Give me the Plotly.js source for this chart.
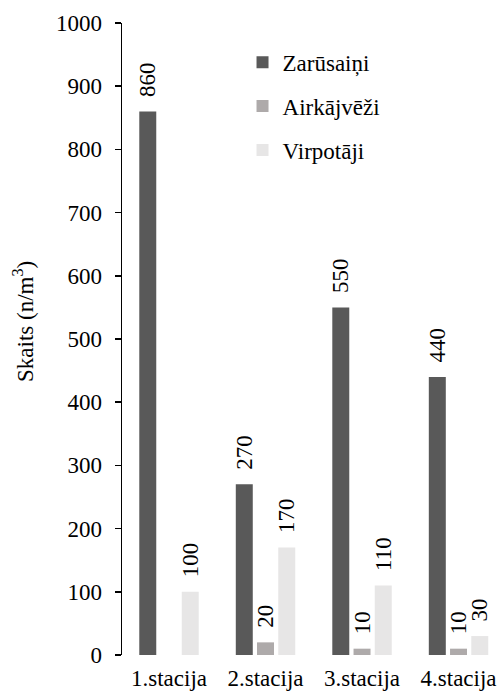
<!DOCTYPE html>
<html>
<head>
<meta charset="utf-8">
<script src="https://cdn.plot.ly/plotly-3.0.1.min.js"></script>
<style>html,body{margin:0;padding:0;background:#fff;}#chart{width:501px;height:693px;}</style>
</head>
<body>
<div id="chart"></div>
<script>
const categories = ["1.stacija", "2.stacija", "3.stacija", "4.stacija"];
const zarusaini = [860, 270, 550, 440];
const airkajvezi = [0, 20, 10, 10];
const virpotaji = [100, 170, 110, 30];
const seriesNames = ["Zarūsaiņi", "Airkājvēži", "Virpotāji"];
const seriesColors = ["#595959", "#AEAAAA", "#E7E6E6"];
const yTicks = [0, 100, 200, 300, 400, 500, 600, 700, 800, 900, 1000];
const yTitle = "Skaits (n/m<sup>3</sup>)";

const FONT = "Liberation Serif";
const FS = 23;
const series = [zarusaini, airkajvezi, virpotaji];
const traces = series.map((vals, i) => ({
  type: "bar",
  name: seriesNames[i],
  legendgroup: "g" + i,
  x: categories,
  y: vals,
  text: vals.map(v => v > 0 ? "\u00a0\u00a0" + String(v) : ""),
  textposition: "outside",
  textangle: -90,
  constraintext: "none",
  cliponaxis: false,
  textfont: {family: FONT, size: FS, color: "#000"},
  marker: {color: seriesColors[i]},
  hoverinfo: "none"
}));

const layout = {
  width: 501, height: 693,
  margin: {l: 122, r: 0, t: 23, b: 38},
  paper_bgcolor: "#fff", plot_bgcolor: "#fff",
  font: {family: FONT, size: FS, color: "#000"},
  barmode: "group",
  bargap: 0.34,
  bargroupgap: 0.2,
  showlegend: true,
  legend: {
    x: 0.318, y: 0.972, xanchor: "left", yanchor: "top",
    bgcolor: "rgba(0,0,0,0)",
    font: {family: FONT, size: FS, color: "#000"},
    tracegroupgap: 11,
    traceorder: "grouped"
  },
  xaxis: {
    range: [-0.487, 3.44],
    showline: false, showgrid: false, zeroline: false,
    ticks: "", ticklabelstandoff: 7,
    tickfont: {family: FONT, size: FS, color: "#000"},
    fixedrange: true
  },
  yaxis: {
    range: [0, 1000],
    tickvals: yTicks,
    ticktext: yTicks.map(String),
    showline: true, linecolor: "#000", linewidth: 1.5,
    ticks: "outside", ticklen: 6, tickcolor: "#000", tickwidth: 1.5,
    ticklabelstandoff: 8,
    showgrid: false, zeroline: false,
    tickfont: {family: FONT, size: FS, color: "#000"},
    fixedrange: true
  },
  annotations: [{
    xref: "paper", yref: "paper",
    x: -0.2586, y: 0.5285, xanchor: "center", yanchor: "middle",
    text: yTitle, textangle: -90, showarrow: false,
    font: {family: FONT, size: FS, color: "#000"}
  }]
};

Plotly.newPlot("chart", traces, layout, {displayModeBar: false, staticPlot: true});
</script>
</body>
</html>
